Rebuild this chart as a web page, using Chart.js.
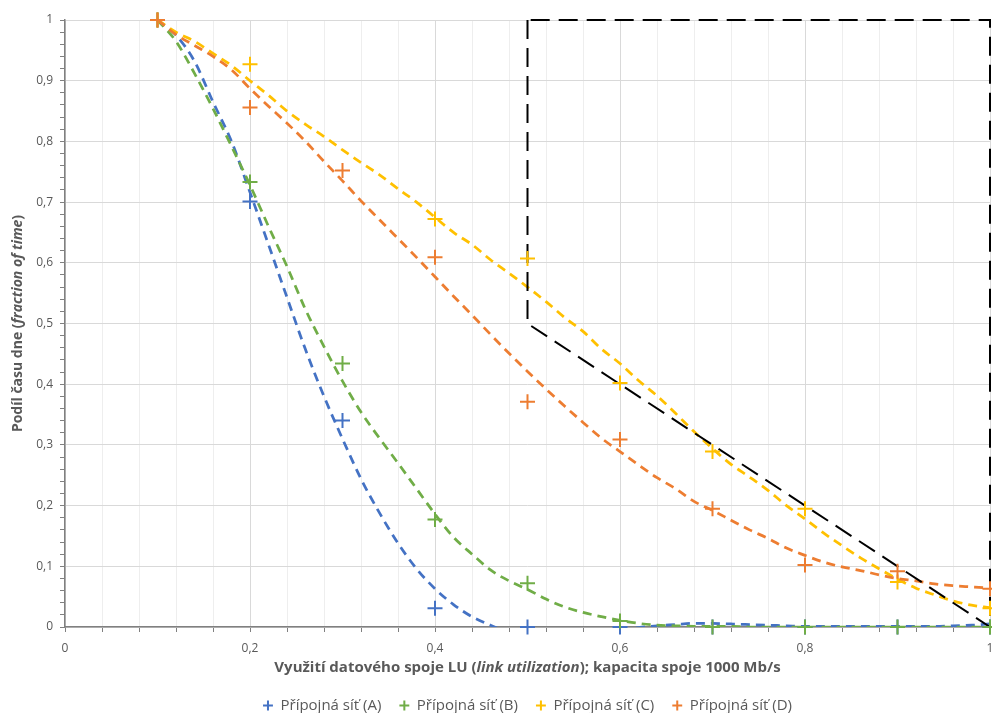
<!DOCTYPE html>
<html lang="cs">
<head>
<meta charset="utf-8">
<title>Využití datového spoje</title>
<script src="https://cdn.jsdelivr.net/npm/chart.js@4.4.1/dist/chart.umd.min.js"></script>
<style>
  html, body { margin: 0; padding: 0; background: #fff; }
  #wrap { width: 992px; height: 713px; }
</style>
</head>
<body>
<div id="wrap"><canvas id="luChart" width="992" height="713"></canvas></div>
<script>
// naměřené body (LU vs. podíl času)
const linkLoad = [0.1, 0.2, 0.3, 0.4, 0.5, 0.6, 0.7, 0.8, 0.9, 1.0];
const sitA = [1.0, 0.701, 0.340, 0.031, 0, 0, 0, 0, 0, 0];
const sitB = [1.0, 0.733, 0.434, 0.177, 0.072, 0.010, 0, 0, 0, 0];
const sitC = [1.0, 0.927, null, 0.672, 0.607, 0.402, 0.289, 0.195, 0.074, 0.031];
const sitD = [1.0, 0.856, 0.752, 0.609, 0.371, 0.309, 0.195, 0.102, 0.092, 0.063];

// spojnice trendu
const trendX = [0.10, 0.12, 0.14, 0.16, 0.18, 0.20, 0.22, 0.24, 0.26, 0.28,
                0.30, 0.32, 0.34, 0.36, 0.38, 0.40, 0.42, 0.44, 0.46, 0.48,
                0.50, 0.52, 0.54, 0.56, 0.58, 0.60, 0.62, 0.64, 0.66, 0.68,
                0.70, 0.72, 0.74, 0.76, 0.78, 0.80, 0.82, 0.84, 0.86, 0.88,
                0.90, 0.92, 0.94, 0.96, 0.98, 1.00];
const trendA = [1.000, 0.975, 0.932, 0.865, 0.800, 0.716, 0.630, 0.543, 0.457, 0.380,
                0.310, 0.244, 0.188, 0.138, 0.096, 0.063, 0.037, 0.017, 0.003, -0.010,
                -0.018, -0.022, -0.022, -0.018, -0.012, -0.006, -0.001, 0.002, 0.004, 0.006,
                0.006, 0.005, 0.004, 0.003, 0.002, 0.001, 0.001, 0.001, 0.001, 0.001,
                0.001, 0.001, 0.001, 0.002, 0.003, 0.005];
const trendB = [1.000, 0.965, 0.912, 0.854, 0.792, 0.728, 0.660, 0.594, 0.523, 0.462,
                0.405, 0.354, 0.311, 0.270, 0.228, 0.186, 0.148, 0.120, 0.094, 0.076,
                0.062, 0.046, 0.033, 0.024, 0.017, 0.011, 0.006, 0.003, 0.002, 0.001,
                0.001, 0.001, 0, 0, 0, 0, 0, 0, 0, 0,
                0, 0, 0, 0, 0, 0];
const trendC = [1.000, 0.980, 0.965, 0.945, 0.925, 0.900, 0.876, 0.850, 0.828, 0.808,
                0.786, 0.765, 0.745, 0.722, 0.700, 0.675, 0.650, 0.630, 0.605, 0.583,
                0.560, 0.536, 0.510, 0.487, 0.458, 0.434, 0.406, 0.381, 0.352, 0.322,
                0.294, 0.268, 0.247, 0.225, 0.200, 0.178, 0.155, 0.134, 0.114, 0.096,
                0.079, 0.064, 0.053, 0.043, 0.036, 0.032];
const trendD = [1.000, 0.976, 0.958, 0.940, 0.918, 0.887, 0.858, 0.830, 0.800, 0.767,
                0.735, 0.702, 0.671, 0.640, 0.609, 0.577, 0.545, 0.514, 0.482, 0.451,
                0.421, 0.392, 0.364, 0.337, 0.311, 0.289, 0.267, 0.246, 0.228, 0.207,
                0.192, 0.176, 0.160, 0.146, 0.130, 0.118, 0.107, 0.099, 0.093, 0.086,
                0.080, 0.076, 0.071, 0.068, 0.066, 0.064];

// vymezená oblast (čárkovaný rámeček)
const limitX = [0.5, 0.5, 1.0, 1.0, 0.5];
const limitY = [1.0, 0.5, 0.0, 1.0, 1.0];

const seriesNames = ['Přípojná síť (A)', 'Přípojná síť (B)', 'Přípojná síť (C)', 'Přípojná síť (D)'];
const seriesColors = ['#4472C4', '#70AD47', '#FFC000', '#ED7D31'];

const xTickStep = 0.04;
const yTickStep = 0.02;

const xTitle = [['Využití datového spoje LU (', false], ['link utilization', true], ['); kapacita spoje 1000 Mb/s', false]];
const yTitle = [['Podíl času dne (', false], ['fraction of time', true], [')', false]];

const FONT = "'Open Sans', 'Noto Sans', sans-serif";
const TEXT_GRAY = '#595959';

function toXY(xs, ys) {
    return xs.map((x, i) => ({ x: x, y: ys[i] })).filter(p => p.y !== null);
}

function isMultiple(v, step) {
    const r = v / step;
    return Math.abs(r - Math.round(r)) < 1e-6;
}

function fmt(v) {
    return String(Math.round(v * 10) / 10).replace('.', ',');
}

// text s kurzívou uprostřed (název osy)
function drawRich(ctx, parts, cx, cy, size) {
    const fonts = parts.map(p => (p[1] ? 'italic ' : '') + 'bold ' + size + 'px ' + FONT);
    let total = 0;
    const widths = parts.map((p, i) => {
        ctx.font = fonts[i];
        const w = ctx.measureText(p[0]).width;
        total += w;
        return w;
    });
    let x = cx - total / 2;
    ctx.textBaseline = 'middle';
    ctx.textAlign = 'left';
    parts.forEach((p, i) => {
        ctx.font = fonts[i];
        ctx.fillText(p[0], x, cy);
        x += widths[i];
    });
}

const axisTitles = {
    id: 'axisTitles',
    afterDraw(chart) {
        const { ctx, chartArea } = chart;
        ctx.save();
        ctx.fillStyle = TEXT_GRAY;
        drawRich(ctx, xTitle, (chartArea.left + chartArea.right) / 2, chartArea.bottom + 41, 15);
        ctx.translate(18, (chartArea.top + chartArea.bottom) / 2);
        ctx.rotate(-Math.PI / 2);
        drawRich(ctx, yTitle, 0, 0, 14);
        ctx.restore();
    }
};

const pointSets = [sitA, sitB, sitC, sitD].map((ys, i) => ({
    label: seriesNames[i],
    data: toXY(linkLoad, ys),
    showLine: false,
    pointStyle: 'cross',
    pointRadius: 7.5,
    pointHoverRadius: 7.5,
    pointBorderWidth: 2,
    borderColor: seriesColors[i],
    backgroundColor: seriesColors[i],
    clip: false,
    order: 4 - i
}));

const trendSets = [trendA, trendB, trendC, trendD].map((ys, i) => ({
    label: 'trend ' + i,
    data: toXY(trendX, ys),
    showLine: true,
    pointRadius: 0,
    borderColor: seriesColors[i],
    borderWidth: 2.75,
    borderDash: [9, 6],
    cubicInterpolationMode: 'monotone',
    order: 20 - i
}));

const limitSet = {
    label: 'oblast',
    data: toXY(limitX, limitY),
    showLine: true,
    pointRadius: 0,
    borderColor: '#000000',
    borderWidth: 2,
    borderDash: [19, 9],
    clip: false,
    order: 10
};

Chart.defaults.font.family = FONT;
Chart.defaults.color = TEXT_GRAY;

new Chart(document.getElementById('luChart'), {
    type: 'scatter',
    data: { datasets: [...pointSets, ...trendSets, limitSet] },
    plugins: [axisTitles],
    options: {
        responsive: false,
        animation: false,
        layout: { autoPadding: false, padding: { top: 20, right: 2, left: 0, bottom: -10 } },
        plugins: {
            tooltip: { enabled: false },
            legend: {
                position: 'bottom',
                fullSize: false,
                labels: {
                    filter: item => item.datasetIndex < 4,
                    sort: (a, b) => a.datasetIndex - b.datasetIndex,
                    usePointStyle: true,
                    boxWidth: 10,
                    boxHeight: 7,
                    padding: 18,
                    color: TEXT_GRAY,
                    font: { size: 15 }
                }
            }
        },
        scales: {
            x: {
                type: 'linear',
                min: 0,
                max: 1,
                afterFit: s => { s.height = 53; s.paddingLeft = 0; s.paddingRight = 0; },
                border: { color: '#808080', width: 1.5 },
                grid: {
                    color: c => isMultiple(c.tick.value, 0.2) ? '#d9d9d9' : '#eeeeee',
                    tickColor: '#808080',
                    tickLength: 5
                },
                ticks: {
                    stepSize: xTickStep,
                    autoSkip: false,
                    maxRotation: 0,
                    padding: 9,
                    font: { size: 12 },
                    callback: v => isMultiple(v, 0.2) ? fmt(v) : ''
                }
            },
            y: {
                type: 'linear',
                min: 0,
                max: 1,
                afterFit: s => { s.width = 65; },
                border: { color: '#808080', width: 1.5 },
                grid: {
                    color: c => isMultiple(c.tick.value, 0.1) ? '#d9d9d9' : 'rgba(0,0,0,0)',
                    tickColor: '#808080',
                    tickLength: 5
                },
                ticks: {
                    stepSize: yTickStep,
                    autoSkip: false,
                    padding: 7,
                    font: { size: 12 },
                    callback: v => isMultiple(v, 0.1) ? fmt(v) : ''
                }
            }
        }
    }
});
</script>
</body>
</html>
